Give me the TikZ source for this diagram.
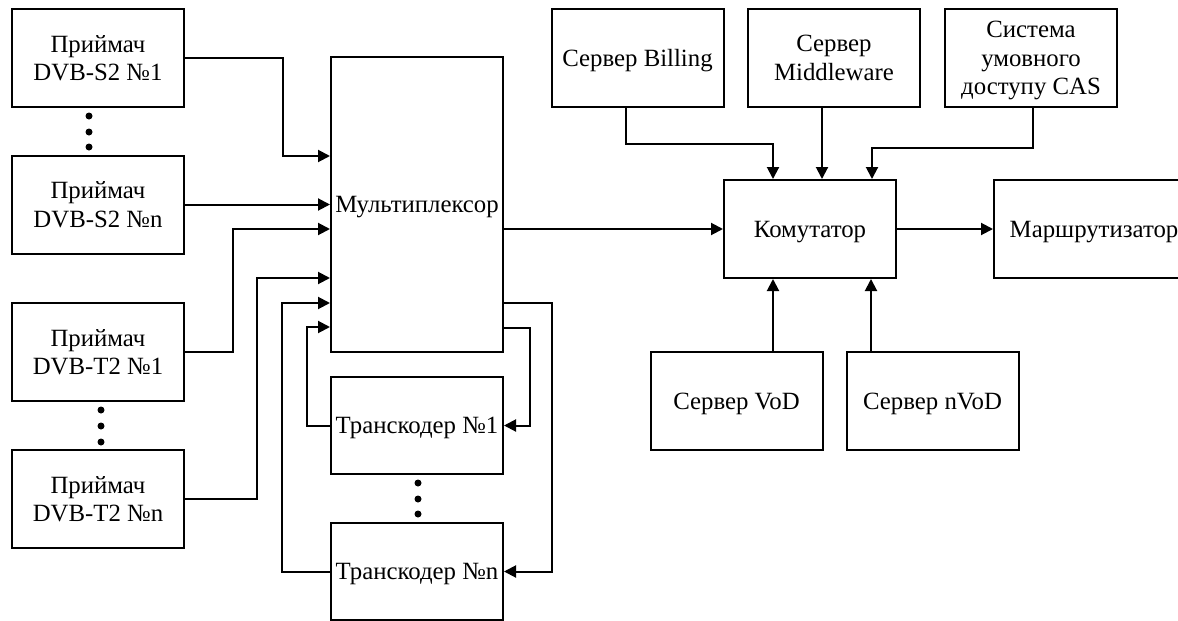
\documentclass[tikz,border=0pt]{standalone}
\usepackage{fontspec}
\setmainfont{Liberation Serif}
\usetikzlibrary{arrows.meta}
\tikzset{
  box/.style={draw, line width=2pt, inner sep=0pt, align=center,
    font=\fontsize{24.8}{28.5}\selectfont, text depth=0pt},
  sbox/.style={box, minimum width=172pt, minimum height=98pt},
  arr/.style={line width=2pt, -{Triangle[length=12pt,width=12pt]}},
  dotn/.style={circle, fill, inner sep=0pt, minimum size=7pt}
}
\begin{document}
\begin{tikzpicture}[x=1pt, y=-1pt]
\useasboundingbox (0,0) rectangle (1178,621);
% receivers
\node[sbox] (r1) at (98,58) {Приймач\\DVB-S2 №1};
\node[sbox] (r2) at (98,204.5) {Приймач\\DVB-S2 №n};
\node[sbox] (r3) at (98,352) {Приймач\\DVB-T2 №1};
\node[sbox] (r4) at (98,499) {Приймач\\DVB-T2 №n};
% dots
\node[dotn] (d1) at (89,116) {};
\node[dotn] (d2) at (89,132) {};
\node[dotn] (d3) at (89,147) {};
\node[dotn] (d4) at (101,410) {};
\node[dotn] (d5) at (101,426) {};
\node[dotn] (d6) at (101,442) {};
% multiplexer and transcoders
\node[box, minimum width=172pt, minimum height=295pt] (mux) at (417,204.5) {Мультиплексор};
\node[box, minimum width=172pt, minimum height=97pt] (t1) at (417,425.5) {Транскодер №1};
\node[box, minimum width=172pt, minimum height=97pt] (tn) at (417,571.5) {Транскодер №n};
\node[dotn] (d7) at (418,483) {};
\node[dotn] (d8) at (418,499) {};
\node[dotn] (d9) at (418,514) {};
% servers
\node[sbox] (bill) at (637.5,58) {Сервер Billing};
\node[sbox] (mid) at (834,58) {Сервер\\Middleware};
\node[sbox] (cas) at (1031,58) {Система\\умовного\\доступу CAS};
\node[sbox] (kom) at (810,229) {Комутатор};
\node[box, minimum width=200pt, minimum height=98pt] (mar) at (1094,229) {Маршрутизатор};
\node[sbox] (vod) at (736.5,401) {Сервер VoD};
\node[sbox] (nvod) at (932.5,401) {Сервер nVoD};
% receivers -> mux
\draw[arr] (r1.east) -| (283,156) -- (mux.west |- 0,156);
\draw[arr] (r2.east) -- (mux.west |- r2.east);
\draw[arr] (r3.east) -| (233,229) -- (mux.west |- 0,229);
\draw[arr] (r4.east) -| (257,278) -- (mux.west |- 0,278);
\draw[arr] (tn.west) -| (282,303) -- (mux.west |- 0,303);
\draw[arr] (t1.west) -| (307,327) -- (mux.west |- 0,327);
% mux -> transcoders
\draw[arr] (mux.east |- 0,303) -- (552,303) |- (tn.east);
\draw[arr] (mux.east |- 0,328) -- (530,328) |- (t1.east);
% mux -> kom -> router
\draw[arr] (mux.east |- kom.west) -- (kom.west);
\draw[arr] (kom.east) -- (mar.west);
% servers -> kom
\draw[arr] (bill.south -| 626,0) |- (773,144) -- (kom.north -| 773,0);
\draw[arr] (mid.south -| 822,0) -- (kom.north -| 822,0);
\draw[arr] (cas.south -| 1033,0) |- (872,148) -- (kom.north -| 872,0);
\draw[arr] (vod.north -| 773,0) -- (kom.south -| 773,0);
\draw[arr] (nvod.north -| 871,0) -- (kom.south -| 871,0);
\end{tikzpicture}
\end{document}
